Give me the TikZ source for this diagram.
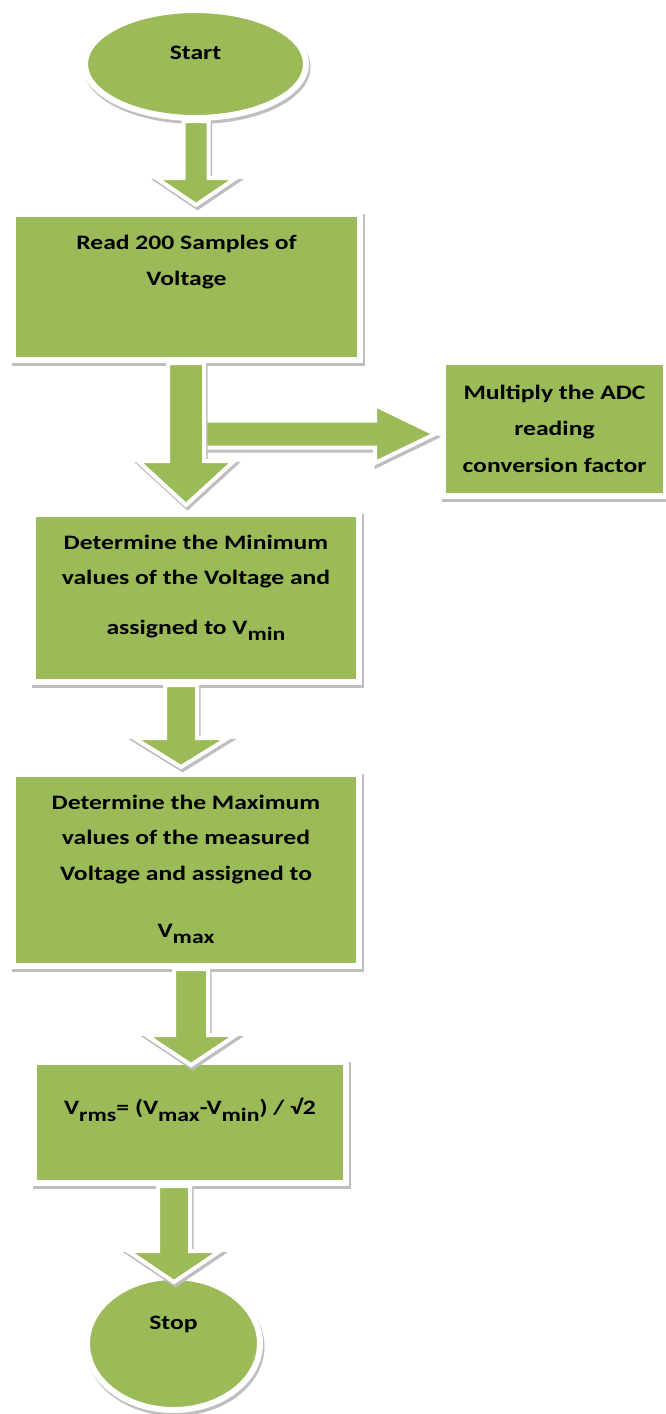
\documentclass[tikz,border=0pt]{standalone}
\usepackage{fontspec}
\setmainfont{Carlito}[FakeStretch=1.25]
\usetikzlibrary{shapes.geometric,shadows,calc}
\definecolor{boxgreen}{HTML}{9BBB59}
\definecolor{shadowgray}{HTML}{BEBEBE}
\newcommand\sub[1]{\raisebox{-0.32em}{\fontsize{19}{19}\selectfont #1}}
% #1 height, #2 width, #3 top gap, #4 lines
\newcommand\intext[4]{\begin{minipage}[c][#1][t]{#2}\centering\vspace*{#3}\rule{0pt}{16pt}#4\end{minipage}}
% vertical block arrow: from, tip, shaft half, head half, head length
\newcommand\varrow[5]{\path[barrow] let \p1=(#1), \p2=(#2) in
  (\x2-#3,\y1) -- (\x2-#3,\y2+#5) -- (\x2-#4,\y2+#5) -- (\x2,\y2)
  -- (\x2+#4,\y2+#5) -- (\x2+#3,\y2+#5) -- (\x2+#3,\y1) -- cycle;}
% horizontal block arrow
\newcommand\harrow[5]{\path[barrow] let \p1=(#1), \p2=(#2) in
  (\x1,\y2+#3) -- (\x2-#5,\y2+#3) -- (\x2-#5,\y2+#4) -- (\x2,\y2)
  -- (\x2-#5,\y2-#4) -- (\x2-#5,\y2-#3) -- (\x1,\y2-#3) -- cycle;}
\tikzset{
  shadowfx/.style={drop shadow={shadow xshift=1.5pt, shadow yshift=-3pt, opacity=1,
     fill=shadowgray, draw=shadowgray, line width=#1}},
  procbox/.style={rectangle, fill=boxgreen, draw=white, line width=6pt, inner sep=0pt,
     shadowfx=6pt, text=black, font=\fontsize{20.5}{36}\selectfont\bfseries},
  termnode/.style={ellipse, fill=boxgreen, draw=white, line width=6pt, inner sep=0pt,
     shadowfx=6pt, text=black, font=\fontsize{20.5}{36}\selectfont\bfseries},
  barrow/.style={fill=boxgreen, draw=white, line width=4pt, line join=miter, shadowfx=4pt},
}
\begin{document}
\begin{tikzpicture}[x=1pt,y=-1pt]
\useasboundingbox[fill=white] (0,0) rectangle (666,1414);

\node[termnode, minimum width=221pt, minimum height=108pt] (start) at (195.5,64)
  {\intext{60pt}{100pt}{9pt}{Start}};
\node[procbox, minimum width=347pt, minimum height=146pt] (read) at (186.5,287)
  {\intext{146pt}{341pt}{19pt}{Read 200 Samples of\\Voltage}};
\node[procbox, minimum width=223pt, minimum height=134pt] (mult) at (554.5,429)
  {\intext{134pt}{217pt}{21pt}{\fontsize{20.5}{36.5}\selectfont Multiply the ADC\\reading\\conversion factor}};
\node[procbox, minimum width=326pt, minimum height=168pt] (vmin) at (196,598)
  {\intext{168pt}{320pt}{19pt}{\fontsize{20.5}{35}\selectfont Determine the Minimum\\values of the Voltage and\\[15pt]assigned to V\sub{min}}};
\node[procbox, minimum width=346pt, minimum height=192pt] (vmax) at (186,870)
  {\intext{192pt}{340pt}{19pt}{\fontsize{20.5}{35.5}\selectfont Determine the Maximum\\values of the measured\\Voltage and assigned to\\[21.5pt]V\sub{max}}};
\node[procbox, minimum width=312pt, minimum height=121pt] (vrms) at (190,1122.5)
  {\intext{121pt}{306pt}{36pt}{V\sub{rms}= (V\sub{max}-V\sub{min}) / √2}};
\node[termnode, minimum width=173pt, minimum height=133pt] (stop) at (173.5,1343.5)
  {\intext{60pt}{100pt}{0pt}{Stop}};

\coordinate (t1) at (196,205);
\coordinate (t2) at (186,505);
\coordinate (bj) at (203,434);
\coordinate (tr) at (435,434);
\coordinate (t3) at (181,767);
\coordinate (t4) at (191,1065);
\coordinate (t5) at (174,1282);

\harrow{bj}{tr}{13.5pt}{29pt}{60pt}
\varrow{start.south}{t1}{12.5pt}{40pt}{27pt}
\varrow{read.south}{t2}{18pt}{48pt}{44pt}
\varrow{vmin.south}{t3}{16pt}{47pt}{29pt}
\varrow{vmax.south}{t4}{17pt}{45pt}{30pt}
\varrow{vrms.south}{t5}{16pt}{46pt}{31pt}
\end{tikzpicture}
\end{document}
